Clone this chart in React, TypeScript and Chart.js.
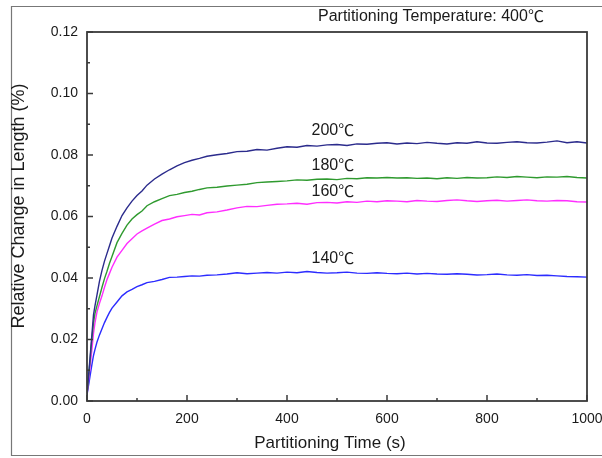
import React, { useEffect, useRef } from "react";
import { Chart, registerables } from "chart.js";

Chart.register(...registerables);

const times = [0,2,4,6,8,10,13,16,20,25,30,35,40,45,50,60,70,80,90,100,110,120,135,150,165,180,195,210,225,240,260,280,300,320,340,360,380,400,420,440,460,480,500,520,540,560,580,600,620,640,660,680,700,720,740,760,780,800,820,840,860,880,900,920,940,960,980,1000];

const s200 = [0.002,0.006,0.010,0.014,0.018,0.022,0.028,0.031,0.0345,0.039,0.0425,0.0455,0.048,0.0505,0.053,0.0568,0.0603,0.0628,0.065,0.0668,0.0683,0.0702,0.0722,0.0738,0.0752,0.0765,0.0775,0.0783,0.0789,0.0796,0.0801,0.0805,0.0811,0.0812,0.0818,0.0816,0.0822,0.0827,0.0825,0.0831,0.0829,0.0833,0.0834,0.0831,0.0836,0.0835,0.0838,0.0840,0.0836,0.0839,0.0837,0.0841,0.0838,0.0836,0.0840,0.0838,0.0843,0.0839,0.0838,0.0841,0.0843,0.0840,0.0839,0.0842,0.0846,0.0840,0.0843,0.0839];

const s180 = [0.002,0.006,0.0095,0.013,0.017,0.0205,0.0255,0.0285,0.031,0.034,0.037,0.0398,0.0422,0.0448,0.047,0.0515,0.0545,0.0572,0.0592,0.0606,0.0618,0.0635,0.0648,0.0658,0.0668,0.0672,0.0678,0.0682,0.0688,0.0693,0.0695,0.0699,0.0702,0.0705,0.0710,0.0712,0.0714,0.0716,0.0719,0.0718,0.0721,0.0722,0.0720,0.0724,0.0723,0.0726,0.0725,0.0727,0.0725,0.0726,0.0724,0.0725,0.0723,0.0726,0.0724,0.0727,0.0725,0.0726,0.0729,0.0727,0.0730,0.0728,0.0726,0.0729,0.0728,0.0730,0.0727,0.0725];

const s160 = [0.002,0.005,0.008,0.011,0.014,0.017,0.022,0.0255,0.029,0.0318,0.0342,0.037,0.0395,0.0415,0.0435,0.0468,0.049,0.0512,0.0528,0.0543,0.0553,0.0562,0.0575,0.0587,0.0592,0.0599,0.0603,0.0607,0.0605,0.0612,0.0615,0.0621,0.0628,0.0633,0.0632,0.0636,0.0640,0.0641,0.0643,0.0640,0.0645,0.0646,0.0644,0.0648,0.0646,0.0650,0.0648,0.0651,0.0650,0.0648,0.0652,0.0650,0.0649,0.0652,0.0654,0.0651,0.0649,0.0651,0.0653,0.0650,0.0652,0.0654,0.0651,0.0650,0.0652,0.0651,0.0648,0.0647];

const s140 = [0.002,0.004,0.006,0.008,0.010,0.012,0.0148,0.0168,0.0192,0.0215,0.0235,0.0255,0.0272,0.0288,0.0302,0.0322,0.0342,0.0355,0.0363,0.0372,0.0378,0.0385,0.0389,0.0395,0.0402,0.0403,0.0405,0.0407,0.0406,0.0409,0.0410,0.0413,0.0417,0.0414,0.0416,0.0418,0.0416,0.0419,0.0417,0.0421,0.0418,0.0416,0.0417,0.0419,0.0416,0.0415,0.0417,0.0415,0.0414,0.0416,0.0413,0.0415,0.0413,0.0412,0.0414,0.0412,0.0410,0.0411,0.0413,0.0410,0.0409,0.0411,0.0408,0.0409,0.0407,0.0405,0.0404,0.0403];

const seriesNames = ["200℃", "180℃", "160℃", "140℃"];
const seriesColors = ["#2b2b8c", "#2f9a2f", "#ff2eff", "#2c2cff"];
const seriesValues = [s200, s180, s160, s140];
// label anchors in data units (time, value)
const labelTimes = [449, 449, 449, 449];
const labelValues = [0.0885, 0.0771, 0.0685, 0.0467];

const xTicks = [0, 200, 400, 600, 800, 1000];
const yTicks = [0, 0.02, 0.04, 0.06, 0.08, 0.1, 0.12];

const FONT = '"Liberation Sans", Arial, sans-serif';
const CJK = '"Noto Sans CJK SC", "Liberation Sans", sans-serif';

function mixedText(ctx: any, text: string, x: number, y: number, size: number) {
  const parts = text.split("℃");
  const main = parts[0];
  const hasC = text.includes("℃");
  const base = y + size * 0.36;
  ctx.textAlign = "left";
  ctx.textBaseline = "alphabetic";
  ctx.font = `${size}px ${FONT}`;
  const w1 = ctx.measureText(main).width;
  ctx.fillText(main, x, base);
  if (hasC) {
    ctx.font = `${size}px ${CJK}`;
    ctx.fillText("℃", x + w1, base + size * 0.06);
  }
}

const decor = {
  id: "decor",
  afterDraw(chart: any) {
    const { ctx, chartArea: a, scales } = chart;
    const xs = scales.x, ys = scales.y;
    ctx.save();
    // outer frame
    ctx.strokeStyle = "#777";
    ctx.lineWidth = 1.2;
    ctx.beginPath();
    ctx.moveTo(602, 6.5);
    ctx.lineTo(11.5, 6.5);
    ctx.lineTo(11.5, 455.5);
    ctx.lineTo(602, 455.5);
    ctx.stroke();
    // plot box
    ctx.strokeStyle = "#3a3a3a";
    ctx.lineWidth = 1.8;
    ctx.strokeRect(a.left, a.top, a.right - a.left, a.bottom - a.top);
    // inward ticks
    ctx.lineWidth = 1.5;
    ctx.beginPath();
    for (let v = 0; v <= 1000; v += 100) {
      const px = xs.getPixelForValue(v);
      const len = v % 200 === 0 ? 6 : 3;
      ctx.moveTo(px, a.bottom);
      ctx.lineTo(px, a.bottom - len);
    }
    for (let i = 0; i <= 12; i++) {
      const py = ys.getPixelForValue(i * 0.01);
      const len = i % 2 === 0 ? 6 : 3;
      ctx.moveTo(a.left, py);
      ctx.lineTo(a.left + len, py);
    }
    ctx.stroke();
    // texts
    ctx.fillStyle = "#1a1a1a";
    for (let i = 0; i < seriesNames.length; i++) {
      mixedText(ctx, seriesNames[i], xs.getPixelForValue(labelTimes[i]), ys.getPixelForValue(labelValues[i]), 16);
    }
    mixedText(ctx, "Partitioning Temperature: 400℃", 318, 15, 16);
    ctx.textBaseline = "middle";
    ctx.font = `17px ${FONT}`;
    ctx.textAlign = "center";
    ctx.fillText("Partitioning Time (s)", 330, 443);
    ctx.font = `18px ${FONT}`;
    ctx.translate(19, 206);
    ctx.rotate(-Math.PI / 2);
    ctx.fillText("Relative Change in Length (%)", 0, 0);
    ctx.restore();
  },
};

export default function App() {
  const ref = useRef<HTMLCanvasElement>(null);
  useEffect(() => {
    const chart = new Chart(ref.current!, {
      type: "line",
      data: {
        datasets: seriesValues.map((vals, i) => ({
          label: seriesNames[i],
          data: times.map((t, j) => ({ x: t, y: vals[j] })),
          borderColor: seriesColors[i],
          borderWidth: 1.4,
          pointRadius: 0,
          tension: 0,
          fill: false,
        })),
      },
      options: {
        animation: false,
        responsive: false,
        maintainAspectRatio: false,
        layout: { padding: { left: 0, right: 15, top: 32, bottom: 0 } },
        plugins: { legend: { display: false }, tooltip: { enabled: false } },
        scales: {
          x: {
            type: "linear",
            min: 0,
            max: 1000,
            afterBuildTicks: (s: any) => { s.ticks = xTicks.map((v) => ({ value: v })); },
            afterFit: (s: any) => { s.height = 57; s.paddingLeft = 0; s.paddingRight = 0; },
            grid: { display: false, drawTicks: false },
            border: { display: false },
            ticks: { color: "#1a1a1a", font: { size: 14, family: FONT }, padding: 10, maxRotation: 0, autoSkip: false, callback: (v: any) => String(v) },
          },
          y: {
            type: "linear",
            min: 0,
            max: 0.12,
            afterBuildTicks: (s: any) => { s.ticks = yTicks.map((v) => ({ value: v })); },
            afterFit: (s: any) => { s.width = 87; s.paddingTop = 0; s.paddingBottom = 0; },
            grid: { display: false, drawTicks: false },
            border: { display: false },
            ticks: { color: "#1a1a1a", font: { size: 14, family: FONT }, padding: 9, callback: (v: any) => Number(v).toFixed(2) },
          },
        },
      },
      plugins: [decor],
    });
    return () => chart.destroy();
  }, []);
  return (
    <div style={{ position: "fixed", left: 0, top: 0, width: 602, height: 458, background: "#fff" }}>
      <canvas ref={ref} width={602} height={458} style={{ display: "block" }} />
    </div>
  );
}
